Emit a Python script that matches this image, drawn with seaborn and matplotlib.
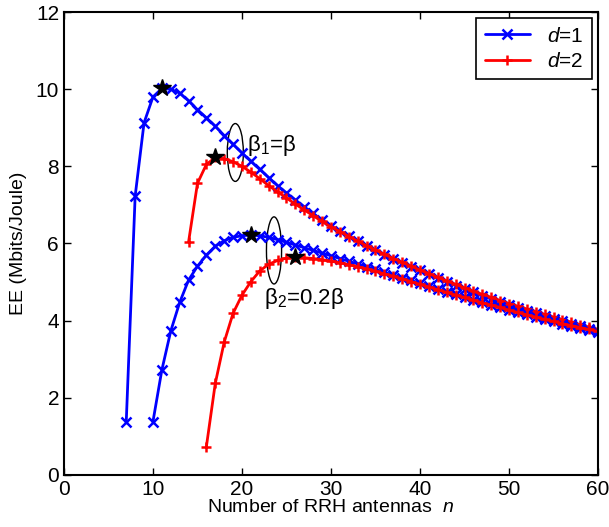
import numpy as np
import pandas as pd
import seaborn as sns
import matplotlib.pyplot as plt
from matplotlib.patches import Ellipse

# EE 값 (Mbits/Joule), 그림에서 읽은 값
n_b1_d1 = list(range(7, 61))
ee_b1_d1 = [1.38, 7.23, 9.13, 9.8, 10.02, 10.0, 9.9, 9.7, 9.47, 9.26,
            9.04, 8.8, 8.57, 8.35, 8.13, 7.92, 7.71, 7.5, 7.31, 7.13,
            6.95, 6.78, 6.61, 6.45, 6.32, 6.19, 6.06, 5.94, 5.82, 5.71,
            5.6, 5.5, 5.4, 5.3, 5.2, 5.1, 5.0, 4.91, 4.82, 4.73,
            4.64, 4.56, 4.48, 4.4, 4.33, 4.26, 4.19, 4.12, 4.05, 3.98,
            3.91, 3.85, 3.78, 3.72]

n_b1_d2 = list(range(14, 61))
ee_b1_d2 = [6.04, 7.56, 8.05, 8.23, 8.2, 8.12, 8.0, 7.85, 7.68, 7.5,
            7.34, 7.18, 7.02, 6.87, 6.72, 6.57, 6.43, 6.31, 6.18, 6.06,
            5.94, 5.83, 5.72, 5.61, 5.51, 5.41, 5.31, 5.22, 5.12, 5.03,
            4.94, 4.85, 4.76, 4.68, 4.6, 4.52, 4.44, 4.37, 4.3, 4.23,
            4.16, 4.09, 4.02, 3.96, 3.89, 3.83, 3.77]

n_b2_d1 = list(range(10, 61))
ee_b2_d1 = [1.38, 2.72, 3.73, 4.47, 5.05, 5.41, 5.7, 5.93, 6.07, 6.16,
            6.2, 6.22, 6.2, 6.16, 6.1, 6.03, 5.96, 5.89, 5.82, 5.75,
            5.68, 5.61, 5.54, 5.47, 5.4, 5.33, 5.25, 5.18, 5.11, 5.04,
            4.97, 4.9, 4.82, 4.75, 4.68, 4.61, 4.54, 4.47, 4.41, 4.35,
            4.28, 4.22, 4.16, 4.1, 4.04, 3.98, 3.92, 3.86, 3.81, 3.76,
            3.7]

n_b2_d2 = list(range(16, 61))
ee_b2_d2 = [0.73, 2.37, 3.44, 4.19, 4.66, 5.01, 5.29, 5.46, 5.56, 5.62,
            5.64, 5.63, 5.61, 5.58, 5.54, 5.5, 5.45, 5.4, 5.34, 5.28,
            5.21, 5.15, 5.08, 5.01, 4.94, 4.87, 4.8, 4.73, 4.66, 4.6,
            4.53, 4.46, 4.4, 4.34, 4.27, 4.21, 4.15, 4.09, 4.03, 3.98,
            3.92, 3.87, 3.82, 3.77, 3.72]


def set_config():
    sns.set_style("ticks")
    plt.rcParams["font.family"] = ["Liberation Sans", "DejaVu Sans"]
    plt.rcParams["mathtext.fontset"] = "custom"
    plt.rcParams["mathtext.rm"] = "Liberation Sans"
    plt.rcParams["mathtext.it"] = "Liberation Sans:italic"
    plt.rcParams["xtick.direction"] = "in"
    plt.rcParams["ytick.direction"] = "in"
    # 글자, 축 색상 검정
    for key in ["text.color", "axes.labelcolor", "xtick.color",
                "ytick.color", "axes.edgecolor"]:
        plt.rcParams[key] = "black"


def draw_curve(ax, n, ee, color, marker, label=None):
    df = pd.DataFrame({"n": n, "ee": ee})
    sns.lineplot(x="n", y="ee", data=df, ax=ax, color=color, marker=marker,
                 markersize=7, markeredgewidth=1.8, markeredgecolor=color,
                 linewidth=2, label=label, legend=False)
    # 최대값에 별 표시
    top = df.loc[df["ee"].idxmax()]
    ax.plot(top["n"], top["ee"], marker="*", color="black", markersize=13,
            linestyle="none", zorder=5)


def main():
    set_config()
    fig = plt.figure(figsize=(6.09, 5.27), dpi=100)
    ax = fig.add_axes([0.105, 0.099, 0.877, 0.878])

    draw_curve(ax, n_b1_d1, ee_b1_d1, "blue", "x", label="$d$=1")
    draw_curve(ax, n_b1_d2, ee_b1_d2, "red", "+", label="$d$=2")
    draw_curve(ax, n_b2_d1, ee_b2_d1, "blue", "x")
    draw_curve(ax, n_b2_d2, ee_b2_d2, "red", "+")

    # 타원 + 주석
    ax.add_patch(Ellipse((19.25, 8.36), 1.8, 1.5, fill=False, color="black", lw=1))
    ax.add_patch(Ellipse((23.6, 5.82), 1.7, 1.74, fill=False, color="black", lw=1))
    ax.text(20.6, 8.55, r"β$\mathregular{_1}$=β", fontsize=16, va="center")
    ax.text(22.5, 4.58, r"β$\mathregular{_2}$=0.2β", fontsize=16, va="center")

    ax.set_xlim(0, 60)
    ax.set_ylim(0, 12)
    ax.set_xticks(np.arange(0, 61, 10))
    ax.set_yticks(np.arange(0, 13, 2))
    ax.tick_params(top=True, right=True, labelsize=15, length=5, width=1)
    for s in ax.spines.values():
        s.set_linewidth(1.5)
    ax.set_xlabel("Number of RRH antennas  $n$", fontsize=14, labelpad=0)
    ax.set_ylabel("EE (Mbits/Joule)", fontsize=14, labelpad=6)

    leg = ax.legend(loc="upper right", fontsize=15, fancybox=False,
                    edgecolor="black", framealpha=1, handlelength=2.2,
                    borderaxespad=0.3, labelspacing=0.3)
    leg.get_frame().set_linewidth(1.2)

    fig.savefig("out.png", dpi=100)


if __name__ == "__main__":
    main()
